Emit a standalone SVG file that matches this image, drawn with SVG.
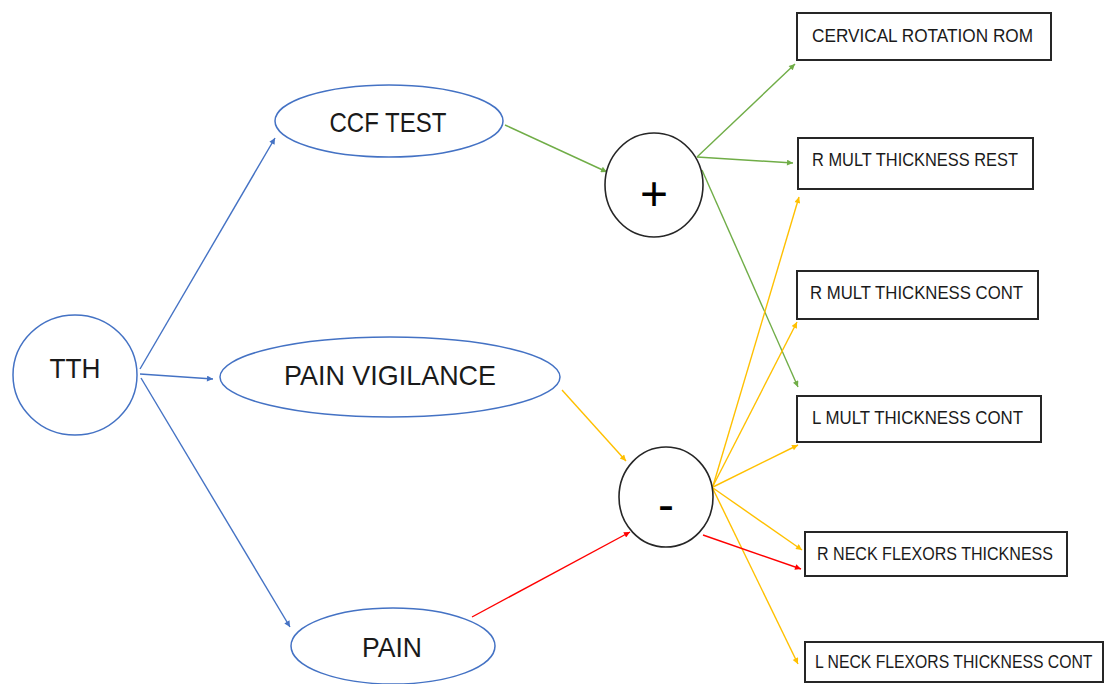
<svg xmlns="http://www.w3.org/2000/svg" width="1107" height="684" viewBox="0 0 1107 684">
  <style>
    .ell { fill: #ffffff; stroke: #4472C4; stroke-width: 1.5; }
    .op { fill: #ffffff; stroke: #262626; stroke-width: 1.6; }
    .box { fill: #ffffff; stroke: #262626; stroke-width: 2; }
    .big { font-family: "Liberation Sans", Arial, sans-serif; font-size: 28px; fill: #1a1a1a; text-anchor: middle; }
    .sm { font-family: "Liberation Sans", Arial, sans-serif; font-size: 19px; fill: #1a1a1a; }
    .sym { font-family: "Liberation Sans", Arial, sans-serif; font-size: 48px; fill: #000; text-anchor: middle; }
    .blue { stroke: #4472C4; stroke-width: 1.4; fill: none; marker-end: url(#mb); }
    .green { stroke: #70AD47; stroke-width: 1.4; fill: none; marker-end: url(#mg); }
    .yel { stroke: #FFC000; stroke-width: 1.4; fill: none; marker-end: url(#my); }
    .red { stroke: #FF0000; stroke-width: 1.4; fill: none; marker-end: url(#mr); }
  </style>
  <defs>
    <marker id="mb" viewBox="0 0 10 10" refX="10" refY="5" markerWidth="8" markerHeight="6" markerUnits="userSpaceOnUse" orient="auto"><path d="M0,0 L10,5 L0,10 Z" fill="#4472C4"/></marker>
    <marker id="mg" viewBox="0 0 10 10" refX="10" refY="5" markerWidth="8" markerHeight="6" markerUnits="userSpaceOnUse" orient="auto"><path d="M0,0 L10,5 L0,10 Z" fill="#70AD47"/></marker>
    <marker id="my" viewBox="0 0 10 10" refX="10" refY="5" markerWidth="8" markerHeight="6" markerUnits="userSpaceOnUse" orient="auto"><path d="M0,0 L10,5 L0,10 Z" fill="#FFC000"/></marker>
    <marker id="mr" viewBox="0 0 10 10" refX="10" refY="5" markerWidth="8" markerHeight="6" markerUnits="userSpaceOnUse" orient="auto"><path d="M0,0 L10,5 L0,10 Z" fill="#FF0000"/></marker>
  </defs>
  <rect x="0" y="0" width="1107" height="684" fill="#ffffff"/>

  <g id="connectors">
    <line class="blue" x1="140" y1="369" x2="275" y2="138"/>
    <line class="blue" x1="140" y1="374" x2="213" y2="379"/>
    <line class="blue" x1="141" y1="378" x2="290" y2="627"/>
    <line class="green" x1="505" y1="125" x2="607" y2="172"/>
    <line class="green" x1="697" y1="157" x2="795" y2="64"/>
    <line class="green" x1="697" y1="157" x2="793" y2="163"/>
    <line class="green" x1="702" y1="170" x2="798" y2="387"/>
    <line class="yel" x1="562" y1="390" x2="626" y2="461"/>
    <line class="red" x1="472" y1="617" x2="630" y2="532"/>
    <line class="yel" x1="713" y1="486" x2="799" y2="197"/>
    <line class="yel" x1="713" y1="486" x2="797" y2="322"/>
    <line class="yel" x1="713" y1="487" x2="798" y2="445"/>
    <line class="yel" x1="713" y1="488" x2="802" y2="550"/>
    <line class="yel" x1="713" y1="489" x2="798" y2="664"/>
    <line class="red" x1="703" y1="535" x2="801" y2="569"/>
  </g>

  <g id="tth">
    <ellipse class="ell" cx="75" cy="375" rx="62" ry="60"/>
    <text class="big" x="75" y="378" textLength="51" lengthAdjust="spacingAndGlyphs">TTH</text>
  </g>
  <g id="ccf-test">
    <ellipse class="ell" cx="389" cy="121" rx="114" ry="36"/>
    <text class="big" x="388" y="132" textLength="117" lengthAdjust="spacingAndGlyphs">CCF TEST</text>
  </g>
  <g id="pain-vigilance">
    <ellipse class="ell" cx="390" cy="377" rx="170" ry="40"/>
    <text class="big" x="390" y="385" textLength="212" lengthAdjust="spacingAndGlyphs">PAIN VIGILANCE</text>
  </g>
  <g id="pain">
    <ellipse class="ell" cx="393" cy="646" rx="102" ry="38"/>
    <text class="big" x="392" y="657" textLength="60" lengthAdjust="spacingAndGlyphs">PAIN</text>
  </g>
  <g id="plus">
    <ellipse class="op" cx="654" cy="185" rx="49" ry="52"/>
    <text class="sym" x="654" y="210">+</text>
  </g>
  <g id="minus">
    <ellipse class="op" cx="666" cy="497" rx="47" ry="50"/>
    <text class="sym" x="666" y="521">-</text>
  </g>
  <g id="cervical-rotation-rom">
    <rect class="box" x="797" y="13" width="254" height="47"/>
    <text class="sm" x="812" y="42" textLength="221" lengthAdjust="spacingAndGlyphs">CERVICAL ROTATION ROM</text>
  </g>
  <g id="r-mult-thickness-rest">
    <rect class="box" x="798" y="138" width="235" height="51"/>
    <text class="sm" x="812" y="166" textLength="206" lengthAdjust="spacingAndGlyphs">R MULT THICKNESS REST</text>
  </g>
  <g id="r-mult-thickness-cont">
    <rect class="box" x="797" y="271" width="241" height="48"/>
    <text class="sm" x="810" y="299" textLength="213" lengthAdjust="spacingAndGlyphs">R MULT THICKNESS CONT</text>
  </g>
  <g id="l-mult-thickness-cont">
    <rect class="box" x="797" y="396" width="244" height="46"/>
    <text class="sm" x="812" y="424" textLength="211" lengthAdjust="spacingAndGlyphs">L MULT THICKNESS CONT</text>
  </g>
  <g id="r-neck-flexors-thickness">
    <rect class="box" x="805" y="532" width="262" height="44"/>
    <text class="sm" x="817" y="560" textLength="236" lengthAdjust="spacingAndGlyphs">R NECK FLEXORS THICKNESS</text>
  </g>
  <g id="l-neck-flexors-thickness-cont">
    <rect class="box" x="805" y="642" width="298" height="40"/>
    <text class="sm" transform="translate(815,668) scale(0.83,1)" x="0" y="0">L NECK FLEXORS THICKNESS CONT</text>
  </g>
</svg>
